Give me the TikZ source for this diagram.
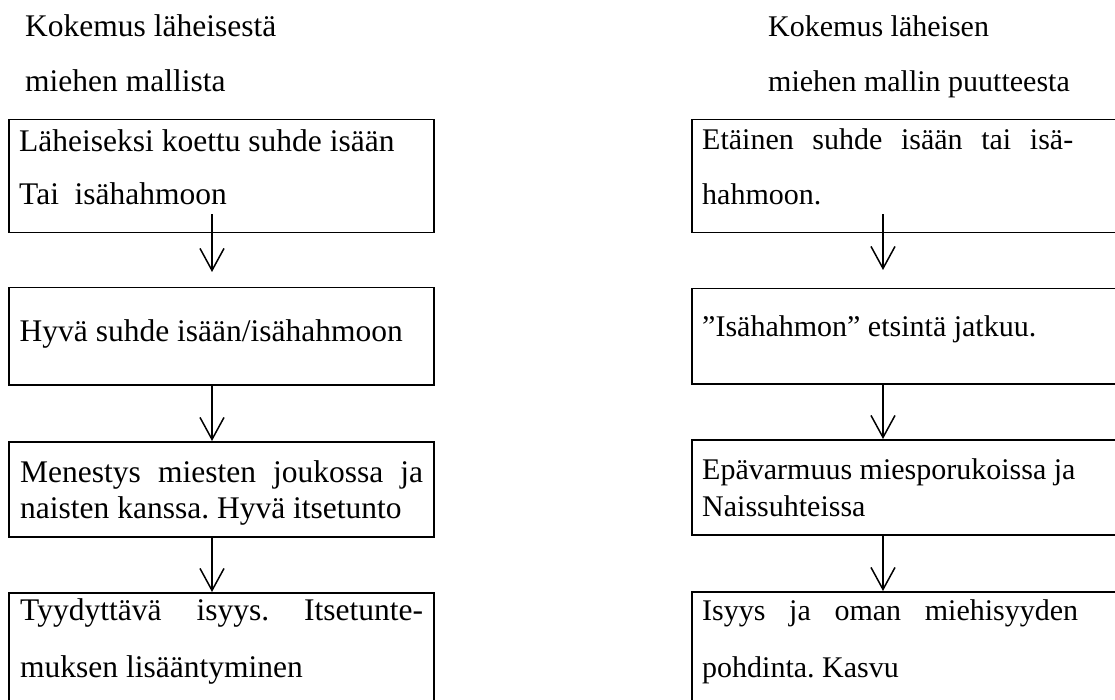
\documentclass[tikz,border=0pt]{standalone}
\usepackage{fontspec}
\setmainfont{Liberation Serif}
\usetikzlibrary{arrows.meta}
\frenchspacing
\newcommand\lfont[1]{\fontsize{31.5}{#1}\selectfont\frenchspacing}
\newcommand\rfont[1]{\fontsize{30}{#1}\selectfont\frenchspacing}
\begin{document}
\begin{tikzpicture}[x=1pt,y=1pt,
  box/.style={draw, line width=1.5pt, rectangle, inner sep=0pt, anchor=north west, minimum width=425pt},
  txt/.style={inner sep=0pt, anchor=base west},
  arr/.style={line width=1.5pt, -{Straight Barb[length=22pt,width=24pt,line width=1.5pt]}}]
\useasboundingbox (0,0) rectangle (1115,-700);

% titles
\node[txt] (tl) at (25,-37) {\parbox[t]{400pt}{\lfont{55}Kokemus läheisestä\\miehen mallista}};
\node[txt] (tr) at (768,-37) {\parbox[t]{345pt}{\rfont{55}Kokemus läheisen\\miehen mallin puutteesta}};

% left boxes
\node[box, minimum height=113pt] (L1) at (8,-119) {};
\node[box, minimum height=97pt] (L2) at (8,-287) {};
\node[box, minimum height=95pt] (L3) at (8,-441) {};
\node[box, minimum height=190pt] (L4) at (8,-592) {};

% right boxes
\node[box, minimum width=440pt, minimum height=113pt] (R1) at (691,-119) {};
\node[box, minimum width=440pt, minimum height=95pt] (R2) at (691,-288) {};
\node[box, minimum width=440pt, minimum height=95pt] (R3) at (691,-439) {};
\node[box, minimum width=440pt, minimum height=190pt] (R4) at (691,-591) {};

% left texts
\node[txt] (tL1) at (19,-152) {\parbox[t]{420pt}{\lfont{53}Läheiseksi koettu suhde isään\\Tai\ \ isähahmoon}};
\node[txt] (tL2) at (19.5,-341) {\parbox[t]{420pt}{\lfont{36}Hyvä suhde isään/isähahmoon}};
\node[txt] (tL3) at (20,-482) {\parbox[t]{420pt}{\lfont{36}\makebox[403pt][s]{Menestys miesten joukossa ja}\\naisten kanssa. Hyvä itsetunto}};
\node[txt] (tL4) at (20,-620) {\parbox[t]{420pt}{\lfont{57}\makebox[403pt][s]{Tyydyttävä isyys. Itsetunte-}\\muksen lisääntyminen}};

% right texts
\node[txt] (tR1) at (702,-150) {\parbox[t]{410pt}{\rfont{55}\makebox[371pt][s]{Etäinen suhde isään tai isä-}\\hahmoon.}};
\node[txt] (tR2) at (702,-336) {\parbox[t]{410pt}{\rfont{36}”Isähahmon” etsintä jatkuu.}};
\node[txt] (tR3) at (702,-479) {\parbox[t]{410pt}{\rfont{37}Epävarmuus miesporukoissa ja\\Naissuhteissa}};
\node[txt] (tR4) at (702,-620) {\parbox[t]{410pt}{\rfont{57}\makebox[376pt][s]{Isyys ja oman miehisyyden}\\pohdinta. Kasvu}};

% left arrows
\draw[arr] ([shift={(204,19)}]L1.south west) -- ([shift={(204,15)}]L2.north west);
\draw[arr] ([shift={(204,0)}]L2.south west) -- ([shift={(204,0)}]L3.north west);
\draw[arr] ([shift={(204,0)}]L3.south west) -- ([shift={(204,0)}]L4.north west);

% right arrows
\draw[arr] ([shift={(192,19)}]R1.south west) -- ([shift={(192,18)}]R2.north west);
\draw[arr] ([shift={(192,0)}]R2.south west) -- ([shift={(192,0)}]R3.north west);
\draw[arr] ([shift={(192,0)}]R3.south west) -- ([shift={(192,0)}]R4.north west);
\end{tikzpicture}
\end{document}
